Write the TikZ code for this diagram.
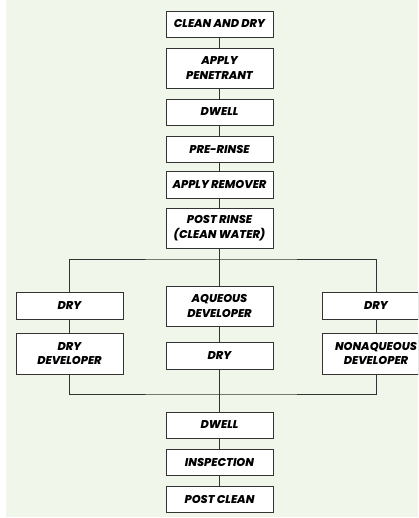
\documentclass[tikz,border=0pt]{standalone}
\usepackage{fontspec}
\setmainfont{Poppins}[BoldItalicFont={Poppins ExtraBold Italic}]
\usetikzlibrary{shadows}
\definecolor{bggreen}{HTML}{F0F6EA}
\definecolor{linegray}{HTML}{333333}

\tikzset{
  stepbox/.style={draw=linegray, line width=0.8pt, fill=white, align=center,
    minimum width=107pt, inner sep=0pt,
    font=\fontsize{11.3}{14.5}\selectfont\bfseries\itshape,
    drop shadow={shadow xshift=0.9pt, shadow yshift=-0.9pt, fill=linegray, opacity=1}},
  link/.style={draw=linegray, line width=0.8pt}
}

\begin{document}
\begin{tikzpicture}[x=1pt,y=-1pt]
			\useasboundingbox (0,0) rectangle (418,518);
			\clip (0,0) rectangle (418,518);
			\fill[bggreen] (6,0) rectangle (418,517);
			% main line
			\node[stepbox, minimum height=26pt] (clean) at (219.5,24) {CLEAN AND DRY};
			\node[stepbox, minimum height=40pt] (penetrant) at (219.5,68) {APPLY\\PENETRANT};
			\node[stepbox, minimum height=26pt] (dwella) at (219.5,112) {DWELL};
			\node[stepbox, minimum height=26pt] (prerinse) at (219.5,149) {PRE-RINSE};
			\node[stepbox, minimum height=27pt] (remover) at (219.5,184.5) {APPLY REMOVER};
			\node[stepbox, minimum height=40pt] (postrinse) at (219.5,228) {POST RINSE\\(CLEAN WATER)};
			% three branches
			\node[stepbox, minimum height=27pt] (drya) at (69.5,305.5) {DRY};
			\node[stepbox, minimum height=41pt] (drydev) at (69.5,353.5) {DRY\\DEVELOPER};
			\node[stepbox, minimum height=40pt] (aqueous) at (219.5,306) {AQUEOUS\\DEVELOPER};
			\node[stepbox, minimum height=27pt] (dryb) at (219.5,355.5) {DRY};
			\node[stepbox, minimum height=27pt] (dryc) at (376,305.5) {DRY};
			\node[stepbox, minimum height=41pt] (nonaq) at (376,353.5) {NONAQUEOUS\\DEVELOPER};
			% end line
			\node[stepbox, minimum height=26pt] (dwellb) at (219.5,425) {DWELL};
			\node[stepbox, minimum height=26pt] (inspect) at (219.5,462) {INSPECTION};
			\node[stepbox, minimum height=26pt] (postclean) at (219.5,499) {POST CLEAN};
			\coordinate (split) at (219.5,259);
			\coordinate (join) at (219.5,394);
			% connectors
			\path[link] (clean) -- (penetrant);
			\path[link] (penetrant) -- (dwella);
			\path[link] (dwella) -- (prerinse);
			\path[link] (prerinse) -- (remover);
			\path[link] (remover) -- (postrinse);
			\path[link] (postrinse) -- (aqueous);
			\path[link] (drya.north) |- (split) -| (dryc.north);
			\path[link] (drya) -- (drydev);
			\path[link] (aqueous) -- (dryb);
			\path[link] (dryc) -- (nonaq);
			\path[link] (drydev.south) |- (join) -| (nonaq.south);
			\path[link] (dryb) -- (dwellb);
			\path[link] (dwellb) -- (inspect);
			\path[link] (inspect) -- (postclean);
		\end{tikzpicture}
\end{document}
